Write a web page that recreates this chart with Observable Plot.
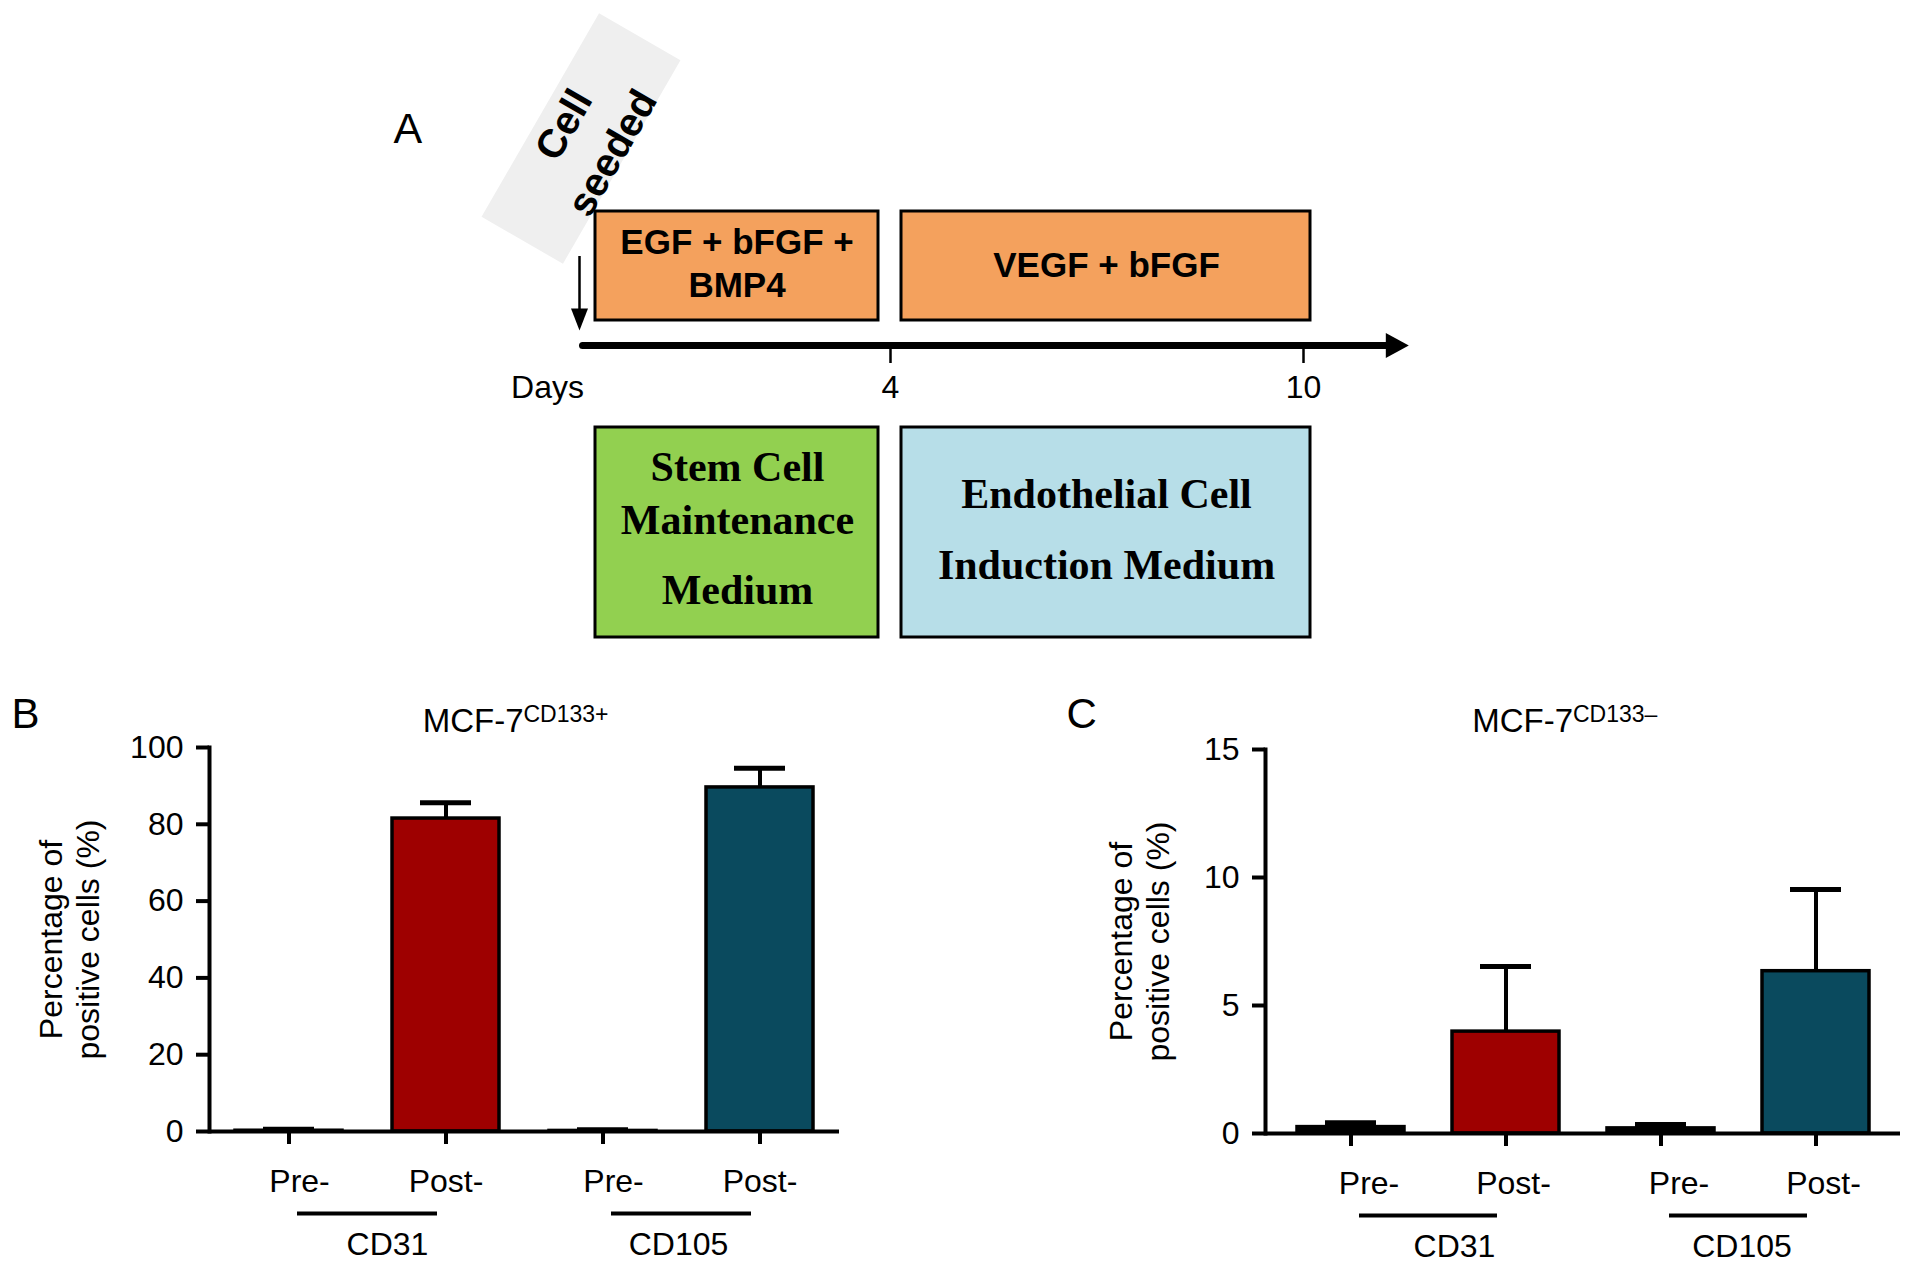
<!DOCTYPE html>
<html>
<head>
<meta charset="utf-8">
<script src="https://cdn.jsdelivr.net/npm/d3@7"></script>
<script src="https://cdn.jsdelivr.net/npm/@observablehq/plot@0.6"></script>
<style>
  html, body { margin: 0; padding: 0; background: #fff; overflow: hidden; }
  #fig { position: relative; width: 1913px; height: 1272px; background: #fff; }
  #fig > div { position: absolute; }
  #fig svg { display: block; overflow: visible; }
</style>
</head>
<body>
<div id="fig"></div>
<script>
// ---------------- Data ----------------
// Panel A: timeline
const phaseDays = [[0, 4], [4, 10]];
const supplements = ["EGF + bFGF +\nBMP4", "VEGF + bFGF"];
const media = ["Stem Cell\nMaintenance\nMedium", "Endothelial Cell\nInduction Medium"];
const dayTicks = [4, 10];
const seedDay = 0;
const timelineEnd = 11.53;
const seedLabel = "Cell\nseeded";
const daysLabel = "Days";

// Panels B and C: bar charts
const markers = ["CD31", "CD31", "CD105", "CD105"];
const stages = ["Pre-", "Post-", "Pre-", "Post-"];
const meanB = [0.2, 81.5, 0.15, 89.6];
const errB = [0.4, 4.1, 0.3, 5.0];
const meanC = [0.25, 3.98, 0.2, 6.34];
const errC = [0.17, 2.54, 0.15, 3.19];
const ticksB = [0, 20, 40, 60, 80, 100];
const ticksC = [0, 5, 10, 15];
const titleMain = "MCF-7";
const supB = "CD133+";
const supC = "CD133\u2013";
const yLabel = "Percentage of\npositive cells (%)";

// ---------------- Styles ----------------
const sans = "'Liberation Sans', Arial, Helvetica, sans-serif";
const serif = "'Liberation Serif', 'Times New Roman', serif";
const barColors = ["#000000", "#9E0000", "#000000", "#0A4A5E"];
const baseStyle = {fontFamily: sans, fontSize: "32px", background: "transparent", overflow: "visible", color: "black"};

const fig = document.getElementById("fig");
function place(node, left, top) {
  const d = document.createElement("div");
  d.style.left = left + "px";
  d.style.top = top + "px";
  d.append(node);
  fig.append(d);
}

// custom symbols
const rectSymbol = (w, h) => ({draw(ctx) { ctx.rect(-w / 2, -h / 2, w, h); }});
const headSymbol = (L, W) => ({draw(ctx) { ctx.moveTo(0, 0); ctx.lineTo(-L, -W / 2); ctx.lineTo(-L, W / 2); ctx.closePath(); }});

// ---------------- Panel A ----------------
const phases = phaseDays.map(([start, end], i) => ({start, end, supplement: supplements[i], medium: media[i]}));
const boxFit = [{insetLeft: 16, insetRight: 12, dx: 2}, {insetLeft: 11, insetRight: -7, dx: 9.5}];
const xA = {type: "linear", domain: [0, 4, 10], range: [199, 510, 923], axis: null};

const topA = Plot.plot({
  width: 1050, height: 420,
  marginTop: 211, marginBottom: 75, marginLeft: 0, marginRight: 0,
  style: baseStyle,
  x: xA,
  y: {domain: [0, 1], axis: null},
  marks: [
    Plot.dot([seedDay], {x: d => d, frameAnchor: "top", symbol: rectSymbol(235, 94), rotate: -60, fill: "#efefef", dx: 1.5, dy: -73}),
    Plot.text([seedLabel], {x: () => seedDay, frameAnchor: "top", textAnchor: "middle", rotate: -60, dx: 4.5, dy: -75, lineAnchor: "middle", lineHeight: 1.4, fontWeight: "bold", fontSize: 40}),
    ...phases.map((p, i) => Plot.rect([p], {x1: "start", x2: "end", fill: "#F4A15D", stroke: "black", strokeWidth: 3, insetLeft: boxFit[i].insetLeft, insetRight: boxFit[i].insetRight, insetBottom: 25})),
    ...phases.map((p, i) => Plot.text([p], {x: d => (d.start + d.end) / 2, text: "supplement", frameAnchor: "top", textAnchor: "middle", lineAnchor: "top", dy: i === 0 ? 11.5 : 35, dx: boxFit[i].dx, fontWeight: "bold", fontSize: 35, lineHeight: 1.24})),
    Plot.ruleX([seedDay], {x: d => d, insetTop: 45, insetBottom: 35, strokeWidth: 2.5}),
    Plot.dot([seedDay], {x: d => d, y: () => 0, symbol: headSymbol(22, 17), rotate: 90, fill: "black", dy: -15}),
    Plot.ruleY([0], {x1: () => seedDay, x2: () => timelineEnd, strokeWidth: 7, strokeLinecap: "round", insetLeft: 3.5, insetRight: 18}),
    Plot.dot([timelineEnd], {x: d => d, y: () => 0, symbol: headSymbol(23, 25), fill: "black"}),
    Plot.axisX({ticks: dayTicks, tickSize: 18, tickPadding: 12, strokeWidth: 2.5, fontSize: 32, label: null, tickFormat: d => String(d)}),
    Plot.text([daysLabel], {x: () => seedDay, frameAnchor: "bottom", textAnchor: "middle", lineAnchor: "top", dy: 30, dx: -32, fontSize: 32}),
    Plot.text(["A"], {frameAnchor: "top-left", textAnchor: "start", lineAnchor: "bottom", dx: 13, dy: -69, fontSize: 43})
  ]
});
place(topA, 380, 0);

const mediumFill = ["#92D050", "#B7DEE8"];
const greenLines = media[0].split("\n");
const bottomA = Plot.plot({
  width: 1050, height: 260,
  marginTop: 27, marginBottom: 23, marginLeft: 0, marginRight: 0,
  style: baseStyle,
  x: xA,
  marks: [
    ...phases.map((p, i) => Plot.rect([p], {x1: "start", x2: "end", fill: mediumFill[i], stroke: "black", strokeWidth: 3, insetLeft: boxFit[i].insetLeft, insetRight: boxFit[i].insetRight})),
    Plot.text([phases[0]], {x: d => (d.start + d.end) / 2, text: () => greenLines.slice(0, 2).join("\n"), frameAnchor: "top", textAnchor: "middle", lineAnchor: "top", dy: 17, dx: 2.5, fontFamily: serif, fontWeight: "bold", fontSize: 42, lineHeight: 1.24}),
    Plot.text([phases[0]], {x: d => (d.start + d.end) / 2, text: () => greenLines[2], frameAnchor: "top", textAnchor: "middle", lineAnchor: "top", dy: 147, dx: 2.5, fontFamily: serif, fontWeight: "bold", fontSize: 42}),
    Plot.text([phases[1]], {x: d => (d.start + d.end) / 2, text: "medium", frameAnchor: "top", textAnchor: "middle", lineAnchor: "top", dy: 30, dx: 9.5, fontFamily: serif, fontWeight: "bold", fontSize: 42, lineHeight: 1.69})
  ]
});
place(bottomA, 380, 400);

// ---------------- Panels B, C ----------------
function barPanel(o) {
  const rows = markers.map((m, i) => ({cat: stages[i] + m, marker: m, stage: stages[i], mean: o.mean[i], err: o.err[i]}));
  const cats = rows.map(d => d.cat);
  const groups = [...new Set(markers)];
  return Plot.plot({
    width: o.width, height: 592,
    marginLeft: o.ml, marginRight: o.mr, marginTop: o.mt, marginBottom: o.mb,
    style: baseStyle,
    x: {type: "band", domain: cats, paddingInner: o.pi, paddingOuter: o.po, axis: null},
    y: {domain: [0, o.yMax], axis: null},
    color: {type: "ordinal", domain: cats, range: barColors},
    marks: [
      Plot.ruleX(rows, {x: "cat", y1: "mean", y2: d => d.mean + d.err, strokeWidth: 4}),
      Plot.tickY(rows, {x: "cat", y: d => d.mean + d.err, strokeWidth: 5, insetLeft: 28, insetRight: 28}),
      Plot.barY(rows, {x: "cat", y: "mean", fill: "cat", stroke: "black", strokeWidth: 3.5}),
      Plot.ruleY([0], {strokeWidth: 4}),
      Plot.frame({anchor: "left", strokeWidth: 4}),
      Plot.axisY({ticks: o.ticks, tickSize: 13, tickPadding: 13, strokeWidth: 4, fontSize: 32, label: null, tickFormat: d => String(d)}),
      Plot.axisX({tickSize: 13, strokeWidth: 4, tickFormat: () => "", label: null}),
      Plot.text(rows.filter(d => d.stage === "Pre-"), {x: "cat", text: "stage", frameAnchor: "bottom", textAnchor: "middle", lineAnchor: "top", dy: 38, dx: o.preDx, fontSize: 32}),
      Plot.text(rows.filter(d => d.stage === "Post-"), {x: "cat", text: "stage", frameAnchor: "bottom", textAnchor: "middle", lineAnchor: "top", dy: 38, dx: o.postDx, fontSize: 32}),
      Plot.ruleY(groups, {x1: g => "Pre-" + g, x2: g => "Post-" + g, y: () => 0, dy: 82, insetLeft: 62, insetRight: 62, strokeWidth: 4}),
      Plot.text([groups[0]], {x: g => "Pre-" + g, text: d => d, frameAnchor: "bottom", textAnchor: "middle", lineAnchor: "middle", dy: 113, dx: o.g1Dx, fontSize: 32}),
      Plot.text([groups[1]], {x: g => "Pre-" + g, text: d => d, frameAnchor: "bottom", textAnchor: "middle", lineAnchor: "middle", dy: 113, dx: o.g2Dx, fontSize: 32}),
      Plot.text([yLabel], {frameAnchor: "left", textAnchor: "middle", rotate: -90, dx: o.ylDx, lineAnchor: "middle", lineHeight: 1.17, fontSize: 32}),
      Plot.text([titleMain], {frameAnchor: "top", textAnchor: "end", lineAnchor: "bottom", dx: o.tDx, dy: o.tDy, fontSize: 33}),
      Plot.text([o.sup], {frameAnchor: "top", textAnchor: "start", lineAnchor: "bottom", dx: o.tDx, dy: o.tDy - 10, fontSize: 23}),
      Plot.text([o.letter], {frameAnchor: "top-left", textAnchor: "start", lineAnchor: "bottom", dx: o.lDx, dy: o.lDy, fontSize: 42})
    ]
  });
}

place(barPanel({
  width: 900, ml: 209, mr: 61, mt: 67, mb: 141, pi: 0.32, po: 0.16,
  mean: meanB, err: errB, yMax: 100, ticks: ticksB,
  preDx: 10.5, postDx: 0, g1Dx: 98.5, g2Dx: 75.5, ylDx: -141,
  sup: supB, tDx: -1, tDy: -16, letter: "B", lDx: -198, lDy: -20
}), 0, 680);

place(barPanel({
  width: 953, ml: 305, mr: 13, mt: 69, mb: 139, pi: 0.31, po: 0.2,
  mean: meanC, err: errC, yMax: 15, ticks: ticksC,
  preDx: 18, postDx: 7.5, g1Dx: 103.5, g2Dx: 81, ylDx: -127,
  sup: supC, tDx: -10, tDy: -18, letter: "C", lDx: -199, lDy: -22
}), 960, 680);
</script>
</body>
</html>
